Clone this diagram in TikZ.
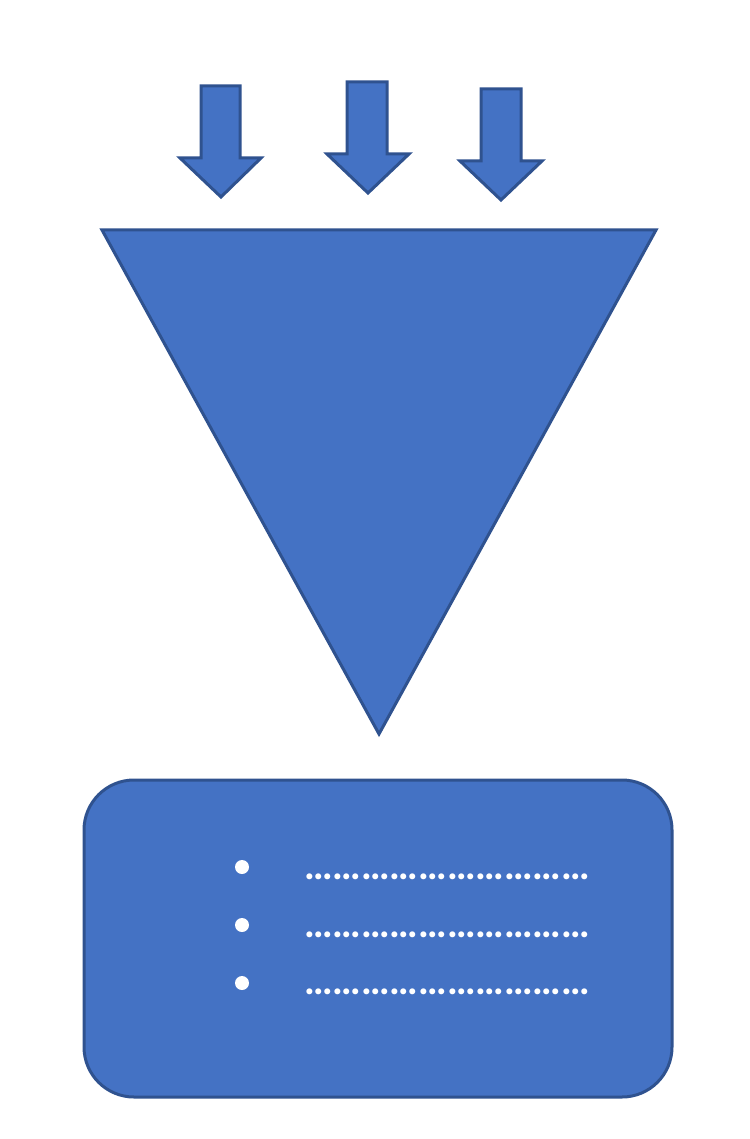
\documentclass[tikz,border=0pt]{standalone}
\usepackage{fontspec}
\setmainfont{Carlito}
\usepackage{graphicx}
\definecolor{fillblue}{HTML}{4472C4}
\definecolor{edgeblue}{HTML}{2F528F}
\begin{document}
\begin{tikzpicture}[x=1pt,y=-1pt]
\tikzset{
  shapestyle/.style={fill=fillblue,draw=edgeblue,line width=3pt,line join=miter},
  bulletdot/.style={circle,fill=white,inner sep=0pt,minimum size=14pt},
  dotline/.style={anchor=base west,inner sep=0pt,text=white,font=\bfseries}
}
\useasboundingbox (0,0) rectangle (749,1139);
% arrows
\draw[shapestyle] (201,86) -- (240,86) -- (240,158) -- (261,158) -- (221,197) -- (180,158) -- (201,158) -- cycle;
\draw[shapestyle] (347,82) -- (387,82) -- (387,154) -- (409,154) -- (368,193) -- (327,154) -- (347,154) -- cycle;
\draw[shapestyle] (481,89) -- (521,89) -- (521,161) -- (542,161) -- (501,200) -- (460,161) -- (481,161) -- cycle;
% funnel
\draw[shapestyle] (102,230) -- (656,230) -- (379,734) -- cycle;
% box
\draw[shapestyle,rounded corners=50pt] (84,780) rectangle (672,1097);
\node[bulletdot] (b1) at (242,867) {};
\node[bulletdot] (b2) at (242,925) {};
\node[bulletdot] (b3) at (242,983) {};
\node[dotline] (t1) at (304,879) {\resizebox{286pt}{!}{…………………………}};
\node[dotline] (t2) at (304,937) {\resizebox{286pt}{!}{…………………………}};
\node[dotline] (t3) at (304,994) {\resizebox{286pt}{!}{…………………………}};
\end{tikzpicture}
\end{document}
